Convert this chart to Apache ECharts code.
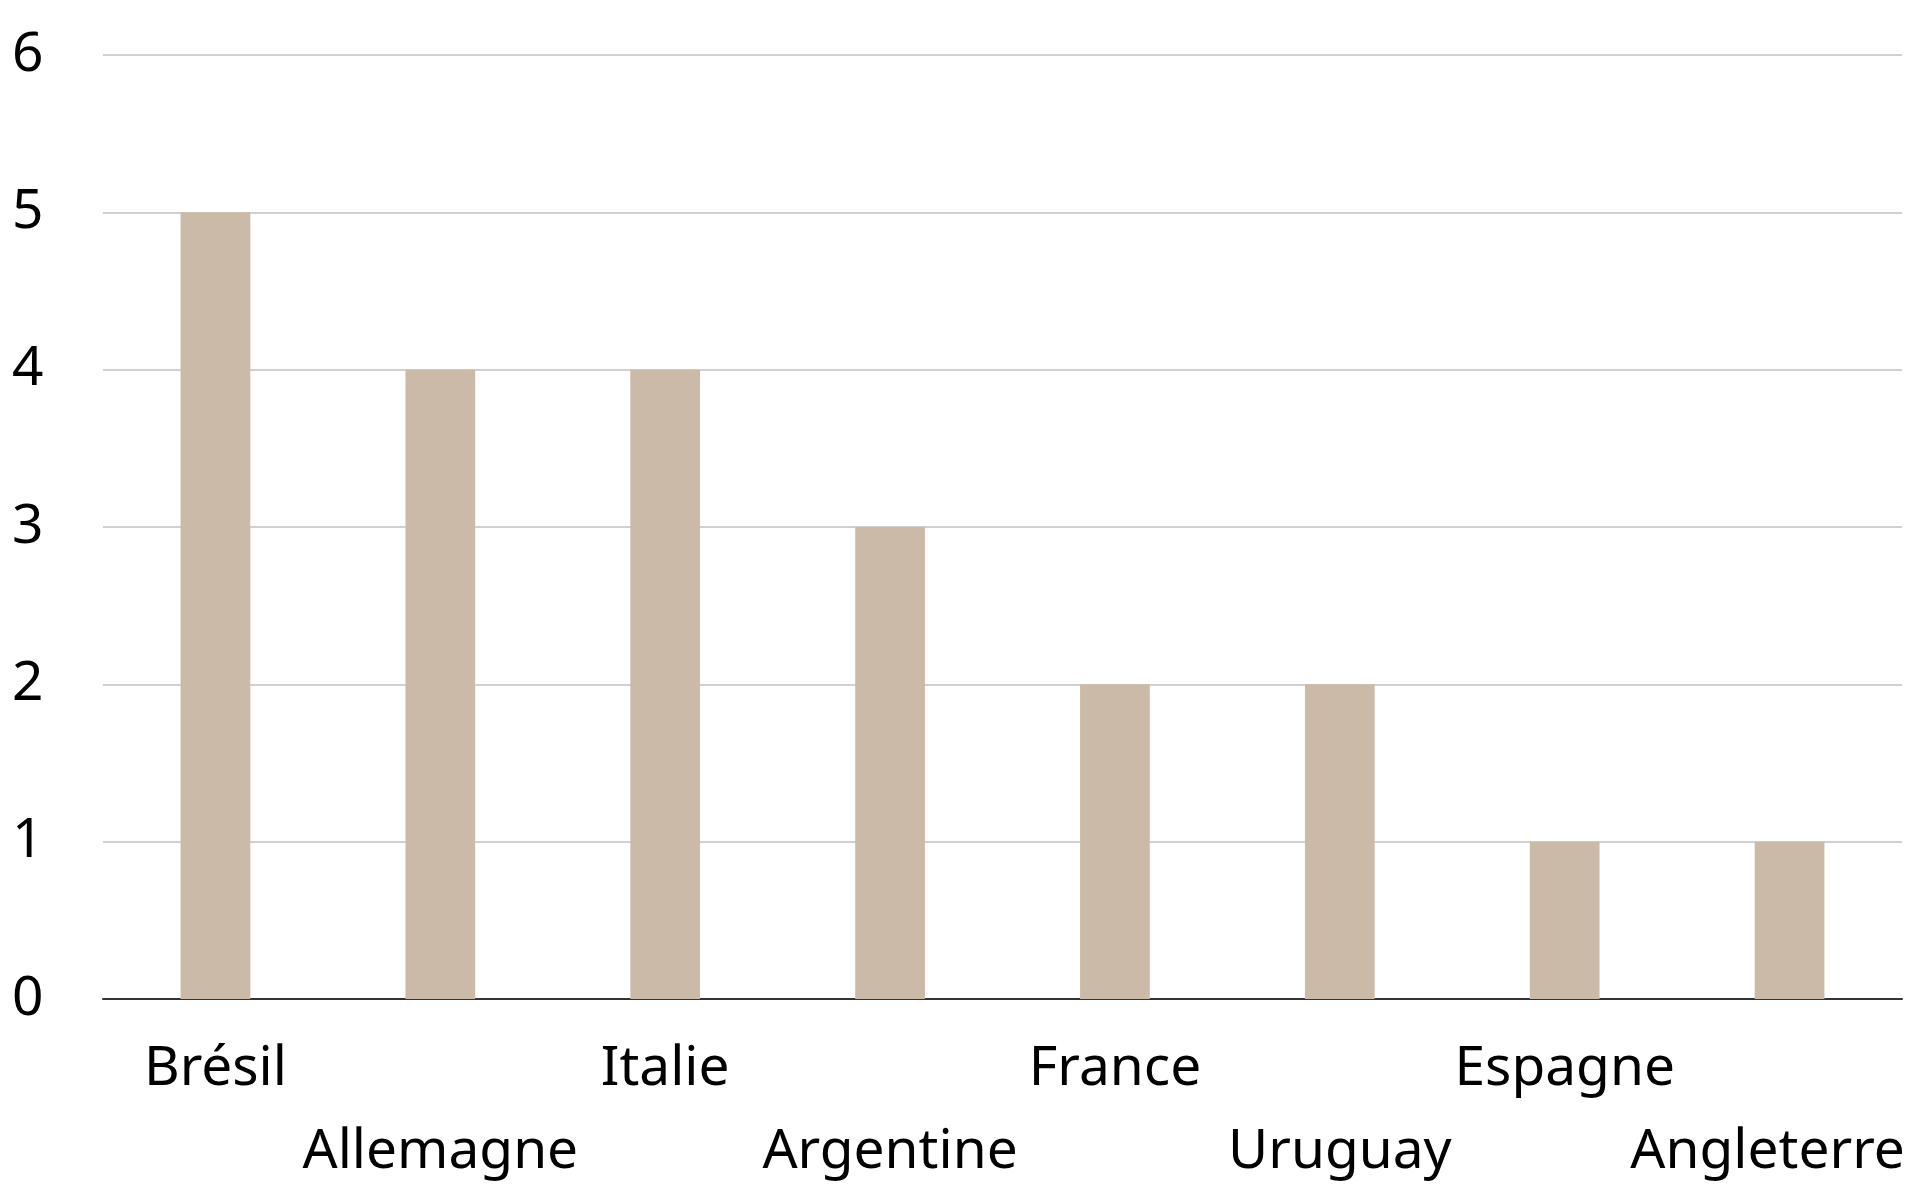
<!DOCTYPE html>
<html lang="fr">
<head>
    <meta charset="UTF-8">
    <title>Titres</title>
    <script src="https://cdn.jsdelivr.net/npm/echarts@6/dist/echarts.min.js"></script>
    <style>
        html, body { margin: 0; padding: 0; background: #fff; }
    </style>
</head>
<body>
<div id="main" style="width: 1920px;height:1200px;"></div>
<script type="text/javascript">
    // donnees
    var pays = ['Brésil', 'Allemagne', 'Italie', 'Argentine', 'France', 'Uruguay', 'Espagne', 'Angleterre'];
    var titres = [5, 4, 4, 3, 2, 2, 1, 1];

    var myChart = echarts.init(document.getElementById('main'));
    var option = {
        backgroundColor: '#ffffff',
        animation: false,
        textStyle: {fontFamily: 'Noto Sans'},
        grid: {
            left: 103,
            right: 18,
            top: 55,
            bottom: 201,
            outerBoundsMode: 'none'
        },
        xAxis: {
            type: 'category',
            data: pays,
            axisLine: {lineStyle: {color: '#333', width: 2}},
            axisTick: {show: false},
            axisLabel: {
                interval: 0,
                margin: 29,
                fontSize: 55,
                lineHeight: 83,
                color: '#000',
                fontFamily: 'Noto Sans',
                // une etiquette sur deux passe a la ligne, la derniere decalee pour rester dans le cadre
                formatter: function (value, idx) {
                    if (idx === pays.length - 1) {
                        return '\n{last|' + value + '}';
                    }
                    return idx % 2 === 1 ? '\n' + value : value + '\n';
                },
                rich: {
                    last: {
                        fontSize: 55,
                        lineHeight: 83,
                        color: '#000',
                        fontFamily: 'Noto Sans',
                        padding: [0, 44, 0, 0]
                    }
                }
            }
        },
        yAxis: {
            type: 'value',
            min: 0,
            max: 6,
            interval: 1,
            axisLine: {show: false},
            axisTick: {show: false},
            splitLine: {lineStyle: {color: '#d0d0d0', width: 2}},
            axisLabel: {
                margin: 91,
                align: 'left',
                fontSize: 55,
                color: '#000',
                fontFamily: 'Noto Sans'
            }
        },
        series: [
            {
                type: 'bar',
                data: titres,
                barWidth: '31%',
                itemStyle: {color: '#cbbaa7'}
            }
        ]
    };
    myChart.setOption(option);
</script>
</body>
</html>
